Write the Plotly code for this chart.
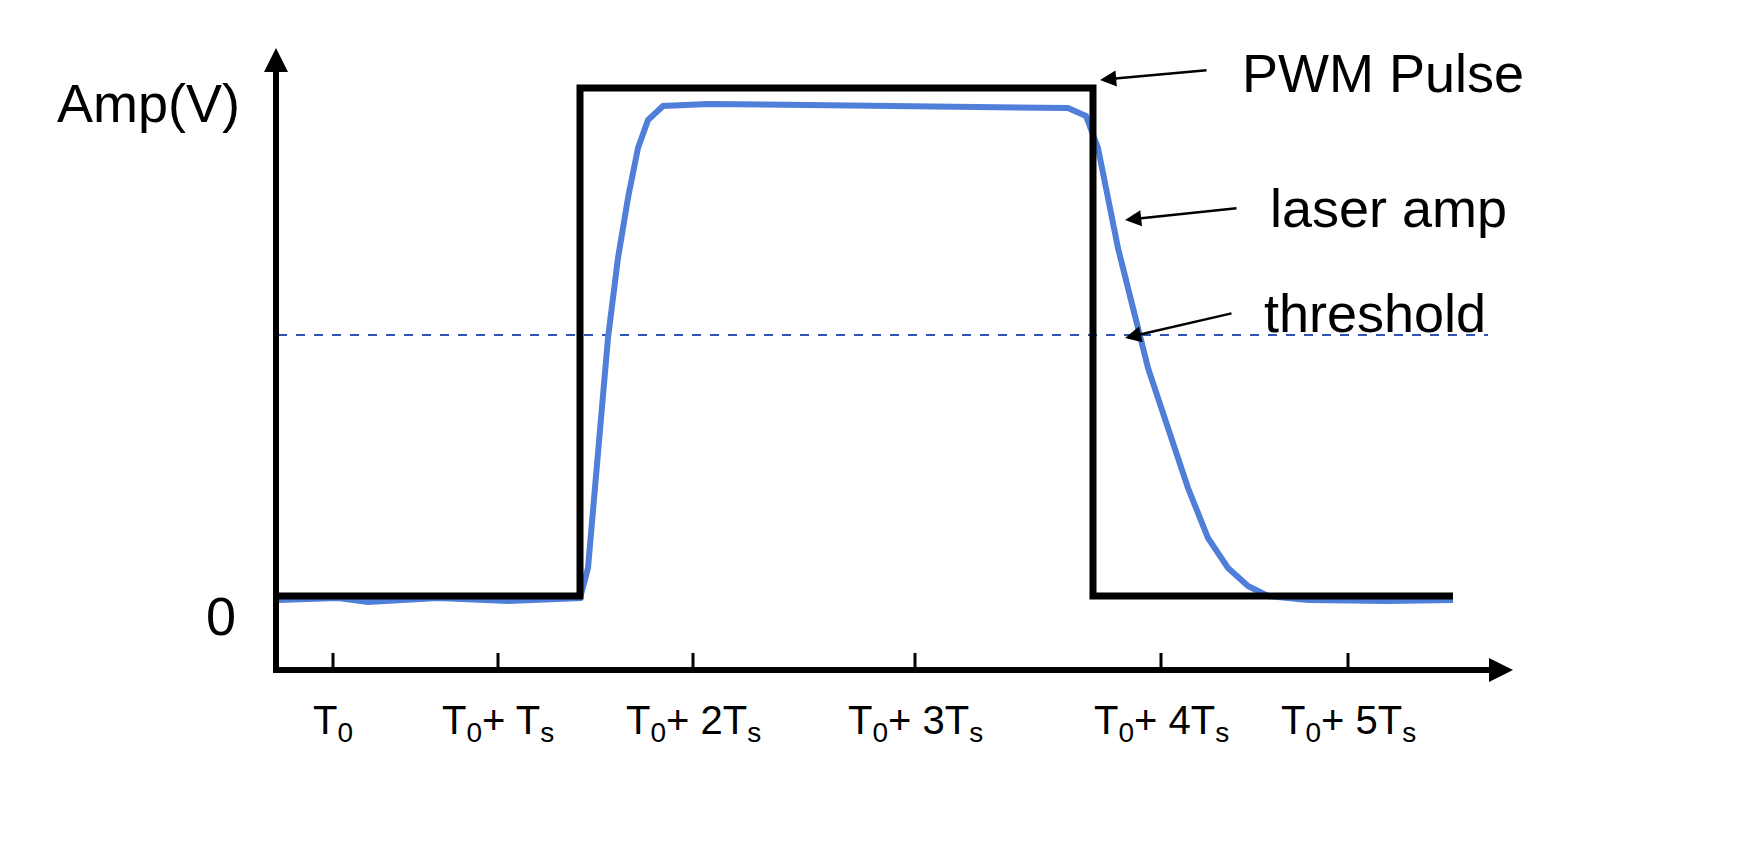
import plotly.graph_objects as go

# diagram coordinates (canvas units, y downward)
pwm_x = [270, 572, 572, 1085, 1085, 1445]
pwm_y = [588, 588, 80, 80, 588, 588]
laser_x = [270, 330, 360, 430, 500, 540, 572, 580, 590, 600, 610, 620, 630, 640, 655, 700, 800, 900, 1000, 1060, 1078, 1090, 1100, 1110, 1125, 1140, 1160, 1180, 1200, 1220, 1240, 1260, 1300, 1380, 1445]
laser_y = [592, 590, 594, 590, 593, 591, 590, 560, 450, 330, 250, 190, 140, 112, 98, 96, 97, 98, 99, 100, 108, 140, 190, 240, 300, 360, 420, 480, 530, 560, 578, 588, 592, 593, 592]
threshold_y = 327
tick_x = [325, 490, 685, 907, 1153, 1340]
tick_labels = ["T<sub>0</sub>", "T<sub>0</sub>+ T<sub>s</sub>", "T<sub>0</sub>+ 2T<sub>s</sub>",
               "T<sub>0</sub>+ 3T<sub>s</sub>", "T<sub>0</sub>+ 4T<sub>s</sub>", "T<sub>0</sub>+ 5T<sub>s</sub>"]

fig = go.Figure()
fig.add_trace(go.Scatter(x=[270, 1480], y=[threshold_y, threshold_y], mode="lines",
                         line=dict(color="#2f55b0", width=2, dash="dash")))
fig.add_trace(go.Scatter(x=laser_x, y=laser_y, mode="lines",
                         line=dict(color="#4f7fd8", width=6)))
fig.add_trace(go.Scatter(x=pwm_x, y=pwm_y, mode="lines",
                         line=dict(color="black", width=7)))
fig.add_trace(go.Scatter(x=[268, 268, 1495], y=[50, 662, 662], mode="lines",
                         line=dict(color="black", width=6)))
for tx in tick_x:
    fig.add_trace(go.Scatter(x=[tx, tx], y=[645, 662], mode="lines",
                             line=dict(color="black", width=3)))

ann = []
ann.append(dict(x=268, y=40, ax=268, ay=80, xref="x", yref="y", axref="x", ayref="y",
                showarrow=True, arrowhead=2, arrowsize=0.8, arrowwidth=6, arrowcolor="black", text=""))
ann.append(dict(x=1505, y=662, ax=1465, ay=662, xref="x", yref="y", axref="x", ayref="y",
                showarrow=True, arrowhead=2, arrowsize=0.8, arrowwidth=6, arrowcolor="black", text=""))
font = dict(family="Liberation Sans, Arial", size=54, color="black")
ann.append(dict(x=140, y=95, text="Amp(V)", showarrow=False, font=font))
ann.append(dict(x=213, y=608, text="0", showarrow=False, font=font))
for tx, tl in zip(tick_x, tick_labels):
    ann.append(dict(x=tx, y=715, text=tl, showarrow=False,
                    font=dict(family="Liberation Sans, Arial", size=40, color="black")))
ann.append(dict(x=1375, y=65, text="PWM Pulse", showarrow=False, font=font))
ann.append(dict(x=1380, y=200, text="laser amp", showarrow=False, font=font))
ann.append(dict(x=1367, y=305, text="threshold", showarrow=False, font=font))
for (x0, y0, x1, y1) in [(1200, 62, 1092, 72), (1230, 200, 1117, 212), (1225, 305, 1117, 330)]:
    ann.append(dict(x=x1, y=y1, ax=x0, ay=y0, xref="x", yref="y", axref="x", ayref="y",
                    showarrow=True, arrowhead=2, arrowsize=1.3, arrowwidth=2.5,
                    arrowcolor="black", text=""))

fig.update_layout(autosize=True, margin=dict(l=0, r=0, t=0, b=0),
                  plot_bgcolor="white", paper_bgcolor="white", showlegend=False,
                  xaxis=dict(range=[0, 1746], visible=False),
                  yaxis=dict(range=[862, 0], visible=False),
                  annotations=ann)
fig.write_html("out.html", default_width="100vw", default_height="100vh",
               config={"responsive": True})
